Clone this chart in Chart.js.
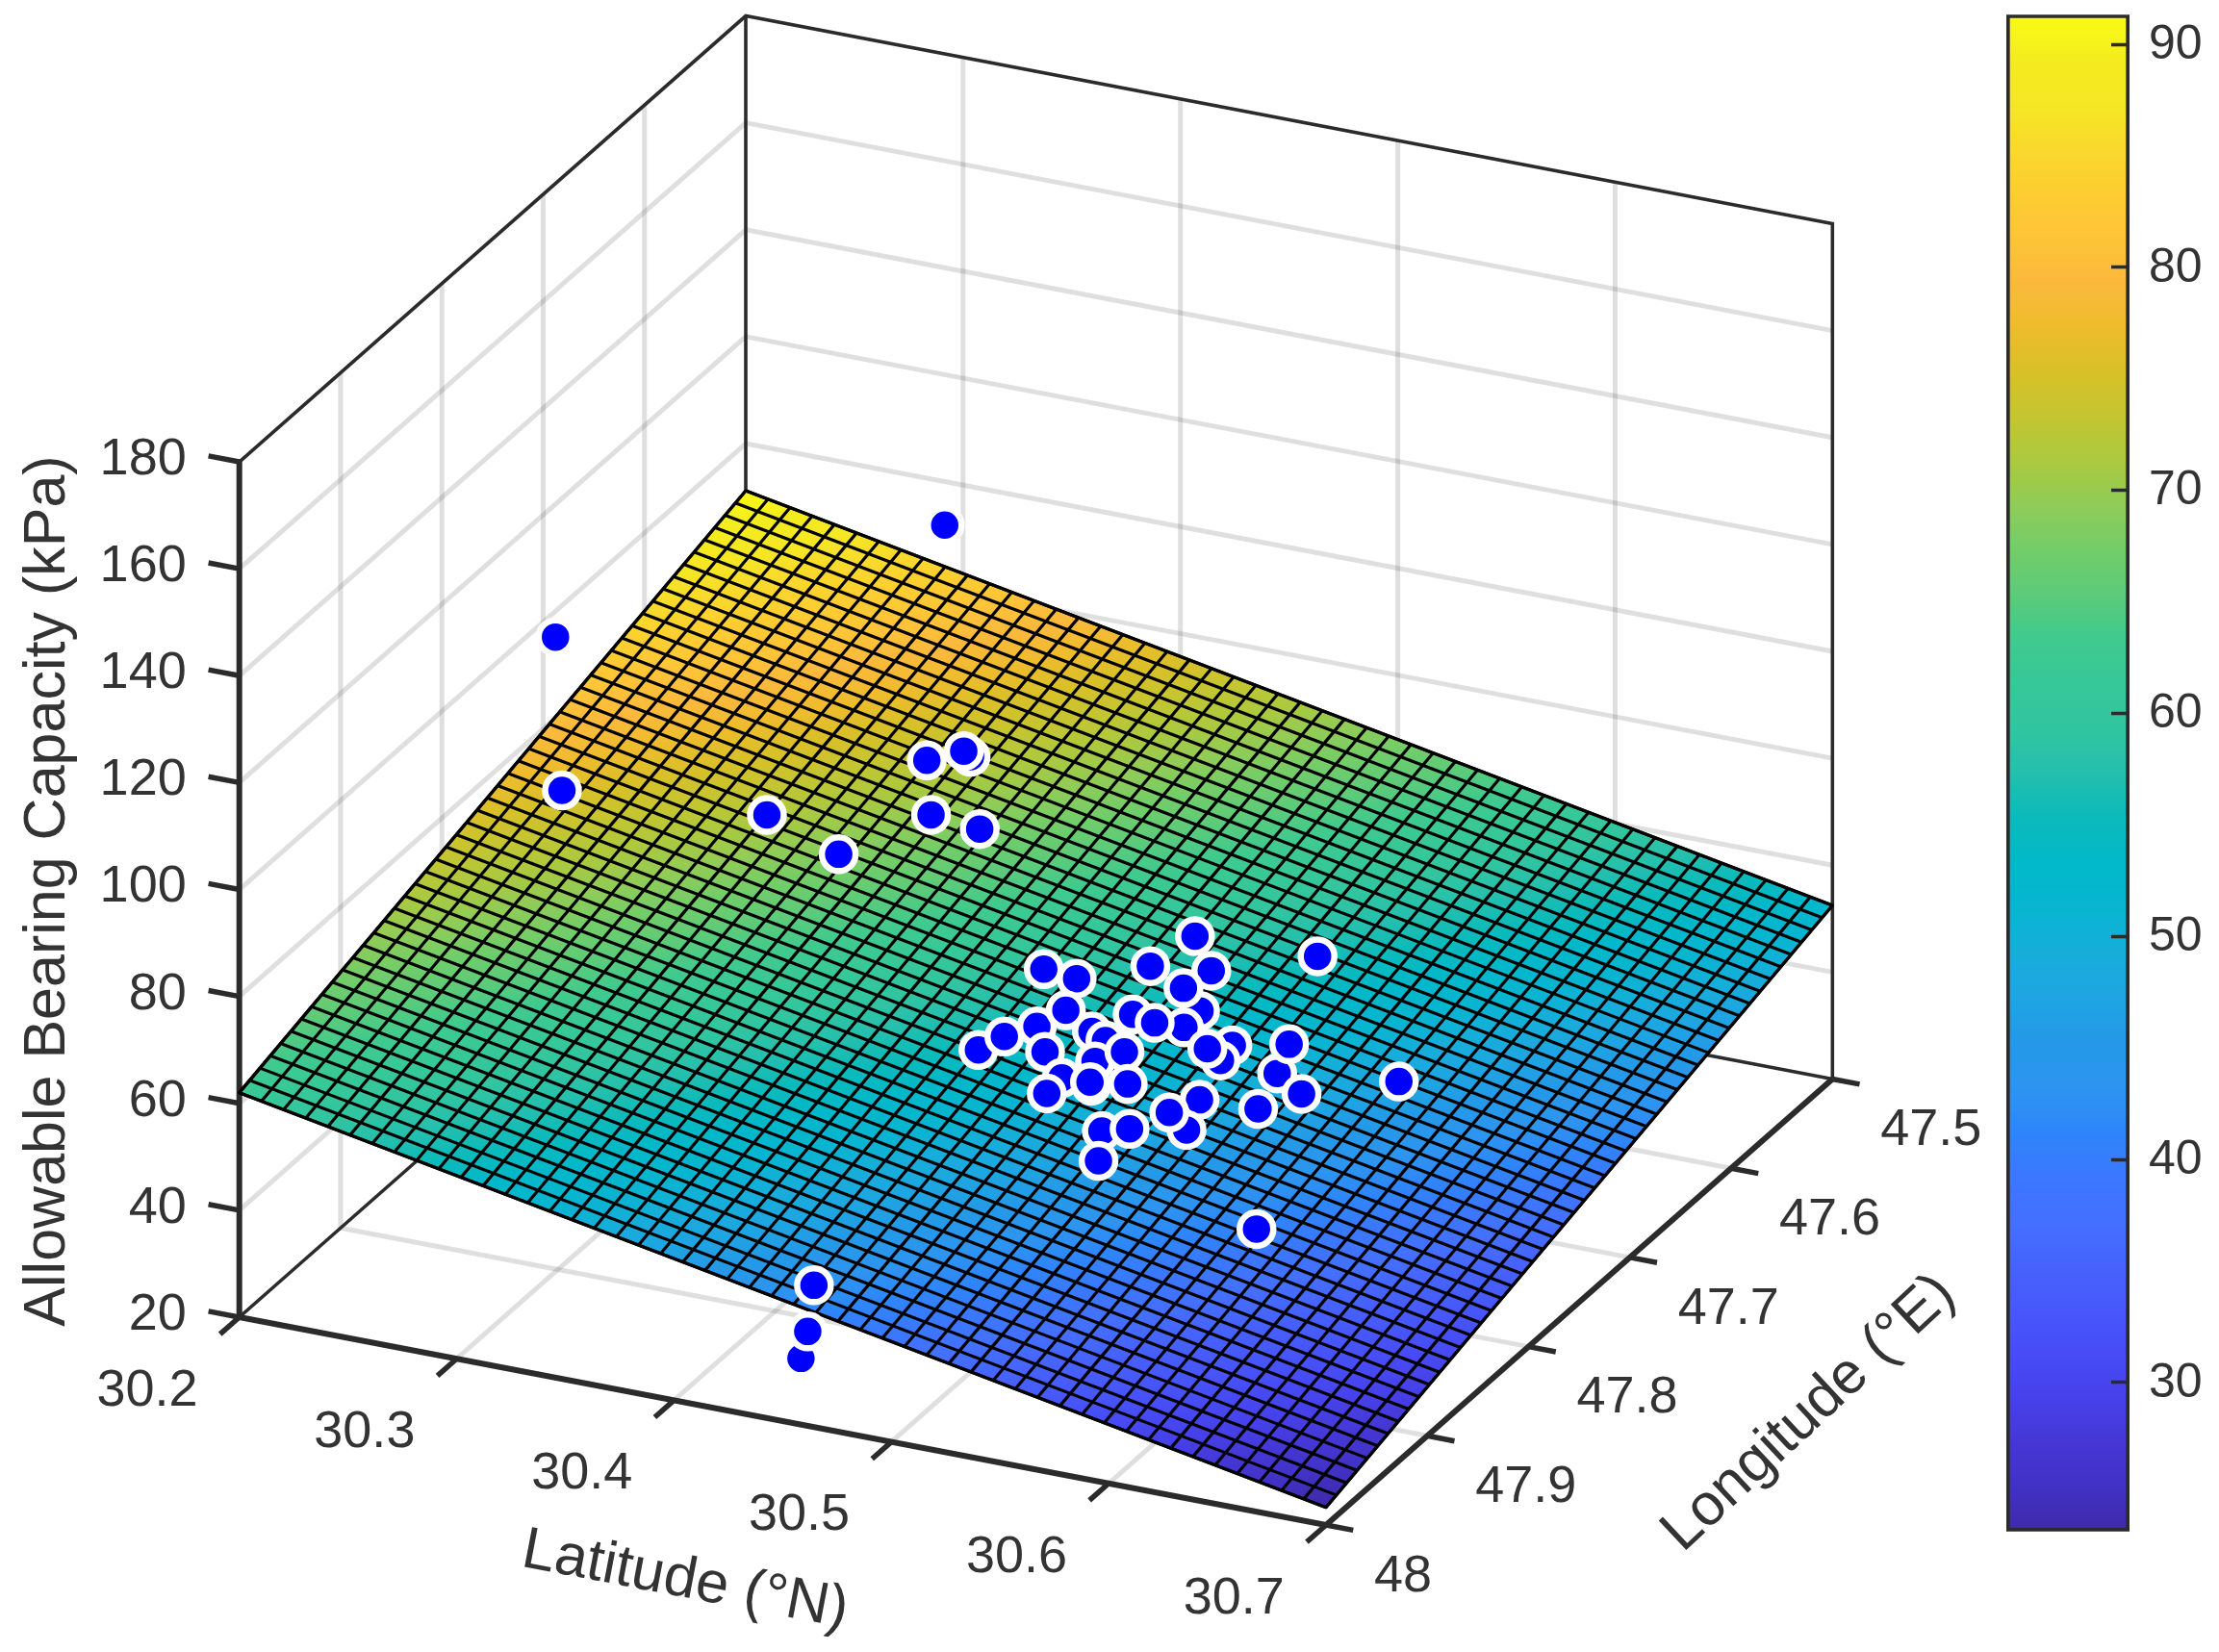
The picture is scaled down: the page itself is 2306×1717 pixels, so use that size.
<!DOCTYPE html>
<html>
<head>
<meta charset="utf-8">
<title>Allowable Bearing Capacity</title>
<script src="https://cdn.jsdelivr.net/npm/chart.js@4"></script>
<style>
html,body{margin:0;padding:0;background:#fff;overflow:hidden}
#wrap{position:relative;width:2306px;height:1717px}
canvas{position:absolute;top:0;display:block}
#main{left:0}
#bar{left:2050px}
</style>
</head>
<body>
<div id="wrap">
<canvas id="main" width="2306" height="1717"></canvas>
<canvas id="bar" width="256" height="1717"></canvas>
</div>
<script>
// ---- values ----
const latTicks = [30.2, 30.3, 30.4, 30.5, 30.6, 30.7];
const latTickLabels = ['30.2', '30.3', '30.4', '30.5', '30.6', '30.7'];
const lonTicks = [47.5, 47.6, 47.7, 47.8, 47.9, 48];
const lonTickLabels = ['47.5', '47.6', '47.7', '47.8', '47.9', '48'];
const zTicks = [20, 40, 60, 80, 100, 120, 140, 160, 180];
const colorTicks = [30, 40, 50, 60, 70, 80, 90];
const colorRange = [23.32, 91.33];

// mesh nodes of the fitted surface
const meshLat = [30.2000,30.2102,30.2204,30.2306,30.2408,30.2510,30.2612,30.2714,30.2816,30.2918,30.3020,30.3122,30.3224,30.3327,30.3429,30.3531,30.3633,30.3735,30.3837,30.3939,30.4041,30.4143,30.4245,30.4347,30.4449,30.4551,30.4653,30.4755,30.4857,30.4959,30.5061,30.5163,30.5265,30.5367,30.5469,30.5571,30.5673,30.5776,30.5878,30.5980,30.6082,30.6184,30.6286,30.6388,30.6490,30.6592,30.6694,30.6796,30.6898,30.7000];
const meshLon = [47.5000,47.5102,47.5204,47.5306,47.5408,47.5510,47.5612,47.5714,47.5816,47.5918,47.6020,47.6122,47.6224,47.6327,47.6429,47.6531,47.6633,47.6735,47.6837,47.6939,47.7041,47.7143,47.7245,47.7347,47.7449,47.7551,47.7653,47.7755,47.7857,47.7959,47.8061,47.8163,47.8265,47.8367,47.8469,47.8571,47.8673,47.8776,47.8878,47.8980,47.9082,47.9184,47.9286,47.9388,47.9490,47.9592,47.9694,47.9796,47.9898,48.0000];
// surface height along its four straight edges (kPa)
const edgeZLon475 = [91.20,90.41,89.62,88.83,88.04,87.25,86.46,85.67,84.88,84.09,83.30,82.51,81.72,80.93,80.14,79.35,78.56,77.77,76.98,76.19,75.40,74.61,73.82,73.03,72.24,71.45,70.67,69.88,69.09,68.30,67.51,66.72,65.93,65.14,64.35,63.56,62.77,61.98,61.19,60.40,59.61,58.82,58.03,57.24,56.45,55.66,54.87,54.08,53.29,52.50];
const edgeZLon48 = [62.00,61.21,60.42,59.63,58.84,58.05,57.26,56.47,55.68,54.89,54.10,53.31,52.52,51.73,50.94,50.15,49.36,48.57,47.78,46.99,46.20,45.41,44.62,43.83,43.04,42.25,41.47,40.68,39.89,39.10,38.31,37.52,36.73,35.94,35.15,34.36,33.57,32.78,31.99,31.20,30.41,29.62,28.83,28.04,27.25,26.46,25.67,24.88,24.09,23.30];
const edgeZLat302 = [91.20,90.60,90.01,89.41,88.82,88.22,87.62,87.03,86.43,85.84,85.24,84.64,84.05,83.45,82.86,82.26,81.67,81.07,80.47,79.88,79.28,78.69,78.09,77.49,76.90,76.30,75.71,75.11,74.51,73.92,73.32,72.73,72.13,71.53,70.94,70.34,69.75,69.15,68.56,67.96,67.36,66.77,66.17,65.58,64.98,64.38,63.79,63.19,62.60,62.00];
const edgeZLat307 = [52.50,51.90,51.31,50.71,50.12,49.52,48.92,48.33,47.73,47.14,46.54,45.94,45.35,44.75,44.16,43.56,42.97,42.37,41.77,41.18,40.58,39.99,39.39,38.79,38.20,37.60,37.01,36.41,35.81,35.22,34.62,34.03,33.43,32.83,32.24,31.64,31.05,30.45,29.86,29.26,28.66,28.07,27.47,26.88,26.28,25.68,25.09,24.49,23.90,23.30];

const sampleLat = [30.280,30.402,30.245,30.333,30.377,30.370,30.385,30.380,30.395,30.4195,
  30.499,30.478,30.512,30.496,30.533,30.474,30.4515,30.435,30.457,30.461,
  30.480,30.489,30.488,30.513,30.500,30.445,30.449,30.471,30.494,30.4885,
  30.4895,30.539,30.541,30.531,30.568,30.560,30.586,30.6175,30.503,30.501,
  30.501,30.516,30.576,30.550,30.558,30.544,30.5265,30.536,30.538,30.627,
  30.430,30.421,30.415];
const sampleLon = [47.8595,47.737,47.778,47.7645,47.788,47.686,47.675,47.671,47.7355,47.740,
  47.682,47.653,47.721,47.703,47.650,47.6885,47.713,47.710,47.764,47.744,
  47.759,47.765,47.736,47.739,47.740,47.796,47.779,47.786,47.786,47.807,
  47.824,47.747,47.763,47.7545,47.765,47.736,47.7795,47.751,47.809,47.806,
  47.772,47.801,47.801,47.803,47.833,47.820,47.849,47.842,47.877,47.912,
  47.939,47.913,47.894];
const sampleZ = [130,140,85,85,85,85,85,85,85,85,
  55,55,55,55,55,55,55,55,55,55,
  55,55,55,55,55,55,55,55,55,55,
  55,55,55,55,55,55,55,55,55,55,
  55,55,55,55,55,55,55,55,55,55,
  20,20,25];

// parula-type colour map used by the surface and the colour bar
const colormap = ['#3e2aa8','#4131c4','#4537d5','#4641ea','#474cf6','#4758fb','#4663fd','#4470ff','#3a78ff','#2e86fa','#2d95f0','#2499e8','#1ea5e2','#16aeda','#07b5d0','#01b8ca','#0bbabb','#24bfae','#31c5a0','#37c898','#3fca8e','#5ccb7a','#72cd69','#8fcc58','#abc93f','#c4c531','#d9c028','#eebc2d','#fbb93c','#fec438','#fdcd31','#f9d92c','#f5e724','#f4ec1e','#f9fb15'];

// ---- projection of (lat, lon, z) on the chart's two scales ----
const X0 = 248.7, PX_LAT = 2258.6, PX_LON = 1052.6, PY_LAT = 432, PY_LON = 927, PY_Z = 5.556, PY0 = 1369;
const px = (lat, lon) => X0 + PX_LAT * (lat - 30.2) - PX_LON * (lon - 48);
const pz = (lat, lon, z) => z - (PY_LAT * (lat - 30.2) + PY_LON * (lon - 48)) / PY_Z;
const P = (lat, lon, z) => ({x: px(lat, lon), y: pz(lat, lon, z)});
const GAP = {x: null, y: null};
const Y_MAX = 20 + PY0 / PY_Z, Y_MIN = Y_MAX - 1717 / PY_Z;
const INK = '#2b2b2b', TEXT = '#333333', FONT = '"Liberation Sans", Arial, sans-serif';
const noPadding = s => { s.paddingTop = s.paddingBottom = s.paddingLeft = s.paddingRight = 0; };

const lineSet = (points, color, width, order) => ({
  data: points, showLine: true, borderColor: color, borderWidth: width, pointRadius: 0,
  tension: 0, clip: false, order, spanGaps: false, fill: false, borderCapStyle: 'butt', borderJoinStyle: 'miter'
});
const datasets = [];
const GRID = 'rgba(38,38,38,0.15)';
const latMin = latTicks[0], latMax = latTicks[5], lonMin = lonTicks[0], lonMax = lonTicks[5];
const zMin = zTicks[0], zMax = zTicks[8];

// wall and floor grid
zTicks.slice(1, -1).forEach(z => {
  datasets.push(lineSet([P(latMin, lonMax, z), P(latMin, lonMin, z)], GRID, 5, 60));
  datasets.push(lineSet([P(latMin, lonMin, z), P(latMax, lonMin, z)], GRID, 5, 60));
});
lonTicks.slice(1, -1).forEach(lon => {
  datasets.push(lineSet([P(latMin, lon, zMin), P(latMin, lon, zMax)], GRID, 5, 60));
  datasets.push(lineSet([P(latMin, lon, zMin), P(latMax, lon, zMin)], GRID, 5, 60));
});
latTicks.slice(1, -1).forEach(lat => {
  datasets.push(lineSet([P(lat, lonMin, zMin), P(lat, lonMin, zMax)], GRID, 5, 60));
  datasets.push(lineSet([P(lat, lonMin, zMin), P(lat, lonMax, zMin)], GRID, 5, 60));
});
// box edges behind the surface
datasets.push(lineSet([P(latMin, lonMax, zMax), P(latMin, lonMin, zMax), P(latMax, lonMin, zMax), P(latMax, lonMin, zMin)], INK, 3.6, 50));
datasets.push(lineSet([P(latMin, lonMin, zMax), P(latMin, lonMin, zMin)], INK, 3.6, 50));
datasets.push(lineSet([P(latMin, lonMax, zMin), P(latMin, lonMin, zMin)], INK, 3.6, 50));
datasets.push(lineSet([P(latMin, lonMin, zMin), P(latMax, lonMin, zMin)], INK, 3.6, 50));
// front axes
datasets.push(lineSet([P(latMin, lonMax, zMin), P(latMin, lonMax, zMax)], INK, 6, 45));
datasets.push(lineSet([P(latMin, lonMax, zMin), P(latMax, lonMax, zMin), P(latMax, lonMin, zMin)], INK, 6, 45));
const tickPts = [];
zTicks.forEach(z => tickPts.push(P(latMin - 0.0142, lonMax, z), P(latMin, lonMax, z), GAP));
latTicks.forEach(lat => tickPts.push(P(lat, lonMax, zMin), P(lat, lonMax + 0.019, zMin), GAP));
lonTicks.forEach(lon => tickPts.push(P(latMax, lon, zMin), P(latMax + 0.0125, lon, zMin), GAP));
datasets.push(lineSet(tickPts, INK, 5.5, 45));

// surface fill: a plane, so its colour varies linearly on screen
function surfaceGradient(chart) {
  if (!chart.chartArea) return colormap[10];
  const sx = chart.scales.x, sy = chart.scales.y;
  const n = meshLat.length - 1;
  const c = [
    [latMin, lonMin, edgeZLon475[0]],
    [latMax, lonMin, edgeZLon475[n]],
    [latMin, lonMax, edgeZLon48[0]]
  ].map(([la, lo, z]) => {
    const p = P(la, lo, z);
    return {x: sx.getPixelForValue(p.x), y: sy.getPixelForValue(p.y), z};
  });
  const a1 = c[1].x - c[0].x, b1 = c[1].y - c[0].y, d1 = c[1].z - c[0].z;
  const a2 = c[2].x - c[0].x, b2 = c[2].y - c[0].y, d2 = c[2].z - c[0].z;
  const det = a1 * b2 - a2 * b1;
  const u = (d1 * b2 - d2 * b1) / det, v = (a1 * d2 - a2 * d1) / det;
  const k = u * u + v * v;
  const at = z => [c[0].x + (z - c[0].z) * u / k, c[0].y + (z - c[0].z) * v / k];
  const s = at(colorRange[0]), e = at(colorRange[1]);
  const g = chart.ctx.createLinearGradient(s[0], s[1], e[0], e[1]);
  colormap.forEach((col, i) => g.addColorStop(i / (colormap.length - 1), col));
  return g;
}
const nMesh = meshLat.length - 1;
const shape = [
  P(latMin, lonMin, edgeZLon475[0]), P(latMax, lonMin, edgeZLon475[nMesh]),
  P(latMax, lonMax, edgeZLon48[nMesh]), P(latMin, lonMax, edgeZLon48[0]),
  P(latMin, lonMin, edgeZLon475[0])
];
const surfaceSet = lineSet(shape, '#000000', 3.2, 30);
surfaceSet.fill = 'shape';
surfaceSet.backgroundColor = ctx => surfaceGradient(ctx.chart);
surfaceSet.borderJoinStyle = 'round';
datasets.push(surfaceSet);

// mesh lines, each running straight between two surface edges
const meshPts = [];
meshLat.forEach((lat, i) => meshPts.push(P(lat, lonMin, edgeZLon475[i]), P(lat, lonMax, edgeZLon48[i]), GAP));
meshLon.forEach((lon, i) => meshPts.push(P(latMin, lon, edgeZLat302[i]), P(latMax, lon, edgeZLat307[i]), GAP));
datasets.push(lineSet(meshPts, '#000000', 3.2, 20));

// samples
datasets.push({
  data: sampleLat.map((la, i) => P(la, sampleLon[i], sampleZ[i])),
  showLine: false, pointRadius: 17.5, pointBorderWidth: 6.5, pointBackgroundColor: '#0000ff',
  pointBorderColor: '#ffffff', clip: false, order: 1
});

// text placed at projected axis positions
const axisText = {
  id: 'axisText',
  afterDraw(chart) {
    const {ctx, scales: {x, y}} = chart;
    const at = (la, lo, z) => { const p = P(la, lo, z); return [x.getPixelForValue(p.x), y.getPixelForValue(p.y)]; };
    ctx.save();
    ctx.fillStyle = TEXT;
    ctx.textBaseline = 'middle';
    ctx.font = '54px ' + FONT;
    ctx.textAlign = 'center';
    latTicks.forEach((la, i) => {
      const [a, b] = at(la, lonMax, zMin);
      ctx.fillText(latTickLabels[i], a - 95.7, b + 77);
    });
    ctx.textAlign = 'left';
    lonTicks.forEach((lo, i) => {
      const [a, b] = at(latMax, lo, zMin);
      ctx.fillText(lonTickLabels[i], a + 50, b + 54);
    });
    ctx.textAlign = 'center';
    ctx.font = '61px ' + FONT;
    [['Allowable Bearing Capacity (kPa)', 50, 926, -90],
     ['Latitude (°N)', 712, 1643, 10.8],
     ['Longitude (°E)', 1880, 1469, -43]].forEach(([t, tx, ty, r]) => {
      ctx.save();
      ctx.translate(tx, ty);
      ctx.rotate(r * Math.PI / 180);
      ctx.fillText(t, 0, 0);
      ctx.restore();
    });
    ctx.restore();
  }
};

new Chart(document.getElementById('main'), {
  type: 'scatter',
  data: {datasets},
  plugins: [axisText],
  options: {
    responsive: false, animation: false, devicePixelRatio: 1, events: [],
    layout: {padding: 0, autoPadding: false},
    plugins: {legend: {display: false}, tooltip: {enabled: false}},
    scales: {
      x: {type: 'linear', display: false, min: X0, max: 2306},
      y: {
        type: 'linear', position: 'left', min: Y_MIN, max: Y_MAX,
        afterBuildTicks(s) { s.ticks = zTicks.map(value => ({value})); },
        afterFit(s) { s.width = X0; noPadding(s); },
        border: {display: false},
        grid: {display: false, drawTicks: false},
        ticks: {
          autoSkip: false, padding: 55, color: TEXT, font: {family: 'Liberation Sans', size: 54},
          labelOffset: -2, callback: v => String(v)
        }
      }
    }
  }
});

// colour bar
const barCtx = document.getElementById('bar').getContext('2d');
new Chart(barCtx, {
  type: 'bar',
  data: {
    labels: [''],
    datasets: [{
      data: [colorRange],
      barPercentage: 1, categoryPercentage: 1, borderWidth: 4, borderColor: INK, borderSkipped: false,
      backgroundColor(ctx) {
        const a = ctx.chart.chartArea;
        if (!a) return colormap[10];
        const g = ctx.chart.ctx.createLinearGradient(0, a.bottom, 0, a.top);
        colormap.forEach((col, i) => g.addColorStop(i / (colormap.length - 1), col));
        return g;
      }
    }]
  },
  options: {
    responsive: false, animation: false, devicePixelRatio: 1, events: [],
    layout: {padding: {left: 35, top: 15.2, bottom: 125.3, right: 0}, autoPadding: false},
    plugins: {legend: {display: false}, tooltip: {enabled: false}},
    scales: {
      x: {display: false, offset: true},
      y: {
        position: 'right', min: colorRange[0], max: colorRange[1],
        afterBuildTicks(s) { s.ticks = colorTicks.map(value => ({value})); },
        afterFit(s) { s.width = 93; noPadding(s); },
        border: {display: false},
        grid: {drawOnChartArea: false, drawTicks: true, tickLength: -19, tickWidth: 3.5, tickColor: INK, z: 2},
        ticks: {padding: 39, labelOffset: 1, color: TEXT, font: {family: 'Liberation Sans', size: 50}, callback: v => String(v)}
      }
    }
  }
});
</script>
</body>
</html>
